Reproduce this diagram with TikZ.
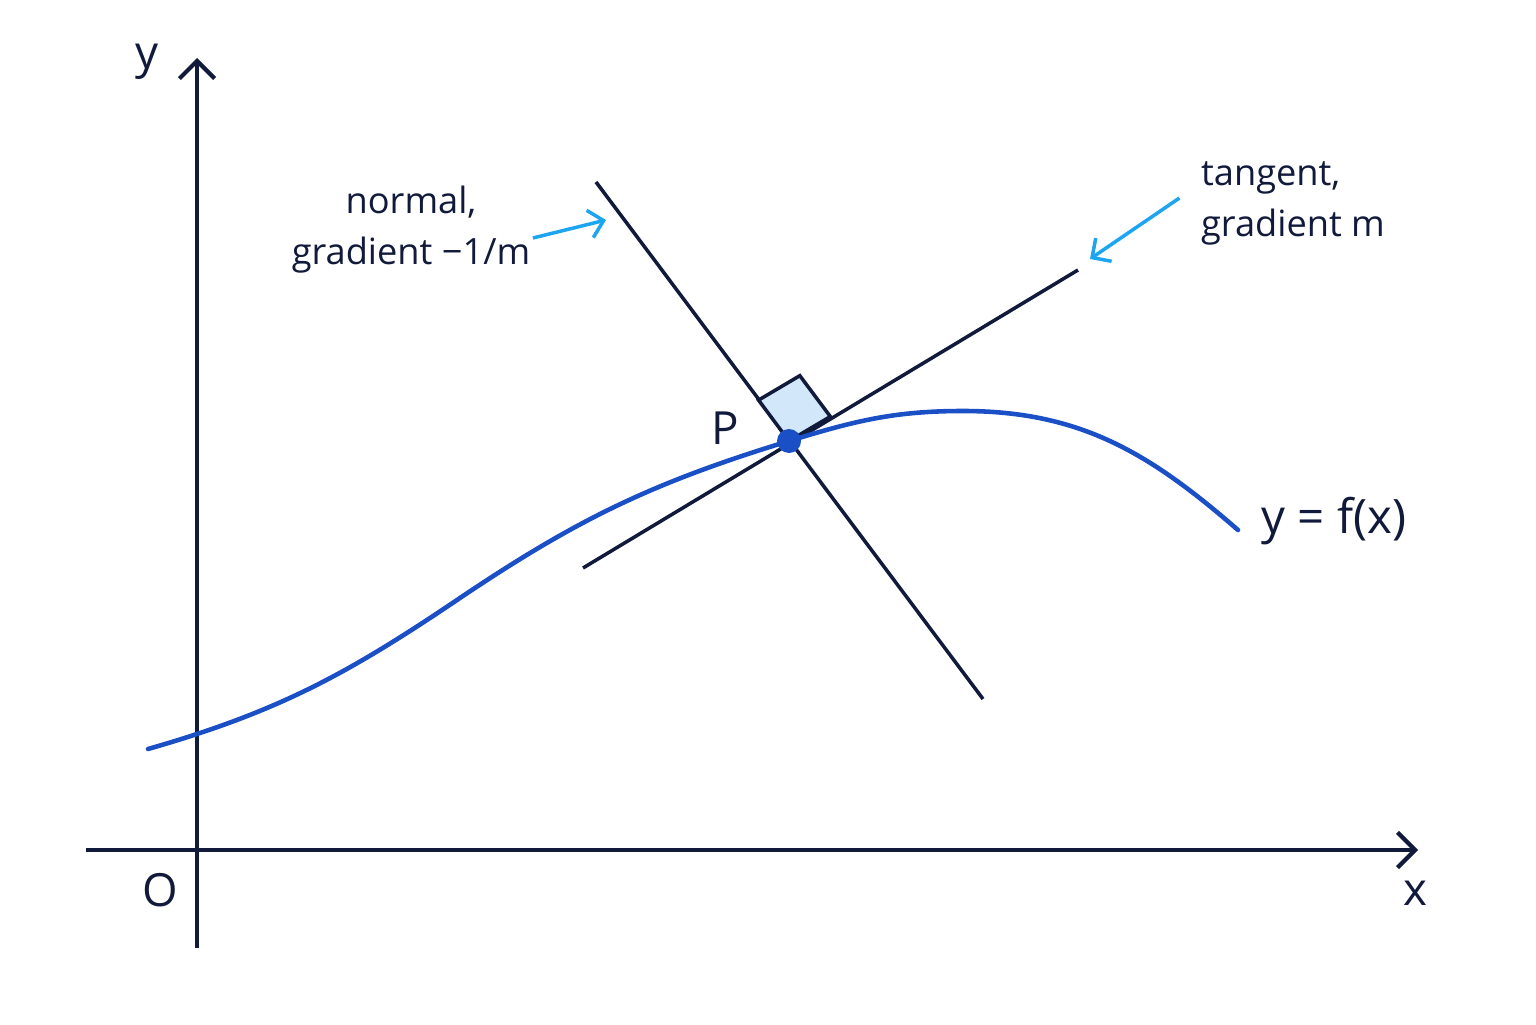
\documentclass[tikz,border=0pt]{standalone}
\usepackage{fontspec}
\setmainfont{Open Sans}
\usetikzlibrary{arrows.meta}
\usetikzlibrary{calc}

\definecolor{ink}{HTML}{111A3A}
\definecolor{curveblue}{HTML}{1B4FC6}
\definecolor{pointer}{HTML}{1EA5F2}
\definecolor{squarefill}{HTML}{D3E7FA}

\begin{document}
\begin{tikzpicture}[
    axis/.style={draw=ink, line width=1.2pt, -{Straight Barb[length=5pt, width=10pt, line width=1.2pt]}},
    line/.style={draw=ink, line width=1pt},
    callout/.style={draw=pointer, line width=1pt, -{Straight Barb[length=4pt, width=8pt, line width=1pt]}},
    lbl/.style={text=ink, font=\fontsize{10.3}{14.5}\selectfont, inner sep=0pt},
    axlbl/.style={text=ink, font=\fontsize{13}{15}\selectfont, inner sep=0pt}
  ]
  \useasboundingbox (-1.97,-1.74) rectangle (13.39,8.50);

  % axes
  \coordinate (O) at (0,0);
  \coordinate (ybot) at (0,-0.98);
  \coordinate (ytop) at (0,7.92);
  \coordinate (xleft) at (-1.11,0);
  \coordinate (xright) at (12.21,0);
  \draw[axis] (ybot) -- (ytop);
  \draw[axis] (xleft) -- (xright);
  \node[axlbl] (ylbl) at (-0.50,7.88) {y};
  \node[axlbl] (xlbl) at (12.18,-0.43) {x};
  \node[axlbl] (olbl) at (-0.37,-0.40) {O};

  % tangent and normal through P
  \coordinate (P) at (5.92,4.09);
  \coordinate (tanBot) at (3.86,2.82);
  \coordinate (tanTop) at (8.81,5.80);
  \coordinate (normTop) at (3.99,6.68);
  \coordinate (normBot) at (7.86,1.51);
  \draw[line] (tanBot) -- (tanTop);
  \draw[line] (normTop) -- (normBot);

  % right angle mark
  \coordinate (sqA) at ($(P)!0.51cm!(normTop)$);
  \coordinate (sqB) at ($(P)!0.48cm!(tanTop)$);
  \draw[line, fill=squarefill] (P) -- (sqA) -- ($(sqA)+(sqB)-(P)$) -- (sqB) -- cycle;

  % the curve
  \coordinate (cStart) at (-0.49,1.01);
  \coordinate (cBend) at (2.60,2.50);
  \coordinate (cTop) at (7.66,4.39);
  \coordinate (cEnd) at (10.41,3.20);
  \draw[curveblue, line width=1.3pt, line cap=round]
    (cStart) to[out=16, in=214] (cBend)
    to[out=34, in=197] (P)
    to[out=17, in=180] (cTop)
    to[out=0, in=139] (cEnd);
  \node[axlbl, anchor=west, font=\fontsize{13.5}{15}\selectfont] (curvelbl) at (10.64,3.29) {y = f(x)};

  \fill[curveblue] (P) circle (0.12);
  \node[axlbl, anchor=east] (plbl) at (5.43,4.22) {P};

  % labels and pointers
  \node[lbl, align=center] (normlbl) at (2.14,6.20) {normal,\\gradient −1/m};
  \node[lbl, align=left] (tanlbl) at (10.96,6.47) {tangent,\\gradient m};
  \coordinate (normtip) at (4.09,6.30);
  \coordinate (tantip) at (8.93,5.91);
  \draw[callout] ($(normlbl.east)+(0.02,-0.08)$) -- (normtip);
  \draw[callout] ($(tanlbl.west)+(-0.21,0.05)$) -- (tantip);
\end{tikzpicture}
\end{document}
